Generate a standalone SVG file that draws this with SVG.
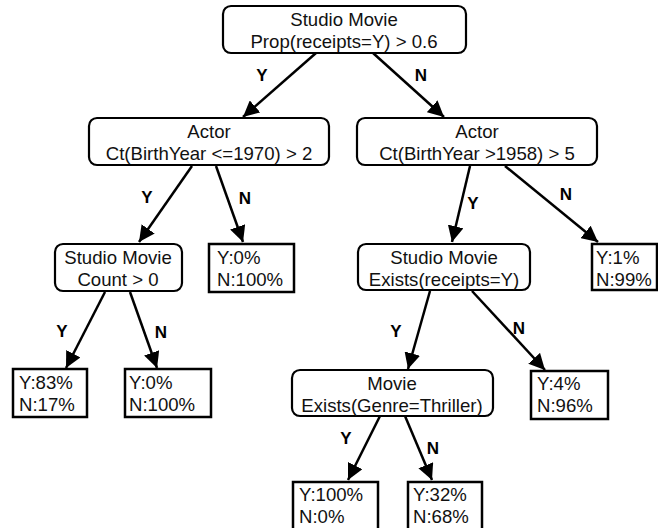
<svg xmlns="http://www.w3.org/2000/svg" width="658" height="528" viewBox="0 0 658 528">
  <defs>
    <marker id="arrow" viewBox="0 0 10 10" refX="10" refY="5" markerWidth="6.4" markerHeight="6.4" markerUnits="strokeWidth" orient="auto">
      <path d="M0,0 L10,5 L0,10 Z" fill="#000"/>
    </marker>
  </defs>
  <style>
    .split { fill: #fff; stroke: #000; stroke-width: 2.2; }
    .leaf { fill: #fff; stroke: #000; stroke-width: 2.5; }
    .t { font-family: "Liberation Sans", Arial, sans-serif; font-size: 18.6px; fill: #111; }
    .c { text-anchor: middle; }
    .lbl { font-family: "Liberation Sans", Arial, sans-serif; font-size: 17px; font-weight: bold; fill: #000; text-anchor: middle; }
    .edge { stroke: #000; stroke-width: 2.5; fill: none; marker-end: url(#arrow); }
  </style>
  <rect width="658" height="528" fill="#fff"/>

  <g id="connectors">
    <line class="edge" x1="316" y1="53" x2="243" y2="117"/>
    <line class="edge" x1="373" y1="53" x2="444" y2="117"/>
    <line class="edge" x1="192" y1="166" x2="139" y2="242"/>
    <line class="edge" x1="216" y1="166" x2="243" y2="242"/>
    <line class="edge" x1="470" y1="166" x2="452" y2="242"/>
    <line class="edge" x1="505" y1="166" x2="598" y2="242"/>
    <line class="edge" x1="105" y1="292" x2="66" y2="368"/>
    <line class="edge" x1="130" y1="292" x2="157" y2="368"/>
    <line class="edge" x1="430" y1="291" x2="408" y2="369"/>
    <line class="edge" x1="472" y1="291" x2="545" y2="370"/>
    <line class="edge" x1="380" y1="416" x2="348" y2="480"/>
    <line class="edge" x1="405" y1="416" x2="432" y2="480"/>
    <text class="lbl" x="262" y="81">Y</text>
    <text class="lbl" x="421" y="81">N</text>
    <text class="lbl" x="147" y="203">Y</text>
    <text class="lbl" x="245" y="204">N</text>
    <text class="lbl" x="473" y="209">Y</text>
    <text class="lbl" x="566" y="200">N</text>
    <text class="lbl" x="62" y="337">Y</text>
    <text class="lbl" x="161" y="338">N</text>
    <text class="lbl" x="396" y="337">Y</text>
    <text class="lbl" x="519" y="334">N</text>
    <text class="lbl" x="346" y="444">Y</text>
    <text class="lbl" x="433" y="454">N</text>
  </g>

  <g id="root">
    <rect class="split" x="223" y="6" width="243" height="47" rx="8"/>
    <text class="t c" x="344" y="26">Studio Movie</text>
    <text class="t c" x="344" y="48">Prop(receipts=Y) &gt; 0.6</text>
  </g>

  <g id="actor-left">
    <rect class="split" x="89" y="118" width="240" height="47" rx="8"/>
    <text class="t c" x="209" y="138">Actor</text>
    <text class="t c" x="209" y="160">Ct(BirthYear &lt;=1970) &gt; 2</text>
  </g>

  <g id="actor-right">
    <rect class="split" x="357" y="118" width="240" height="47" rx="8"/>
    <text class="t c" x="477" y="138">Actor</text>
    <text class="t c" x="477" y="160">Ct(BirthYear &gt;1958) &gt; 5</text>
  </g>

  <g id="studio-count">
    <rect class="split" x="55" y="244" width="127" height="47" rx="8"/>
    <text class="t c" x="118" y="264">Studio Movie</text>
    <text class="t c" x="118" y="286">Count &gt; 0</text>
  </g>

  <g id="leaf-y0-n100-a">
    <rect class="leaf" x="209" y="244" width="85" height="48"/>
    <text class="t" x="217" y="264">Y:0%</text>
    <text class="t" x="217" y="286">N:100%</text>
  </g>

  <g id="studio-exists">
    <rect class="split" x="358" y="244" width="172" height="46" rx="8"/>
    <text class="t c" x="444" y="264">Studio Movie</text>
    <text class="t c" x="444" y="286">Exists(receipts=Y)</text>
  </g>

  <g id="leaf-y1-n99">
    <rect class="leaf" x="592" y="244" width="65" height="46"/>
    <text class="t" x="596" y="264">Y:1%</text>
    <text class="t" x="596" y="286">N:99%</text>
  </g>

  <g id="leaf-y83-n17">
    <rect class="leaf" x="13" y="369" width="74" height="48"/>
    <text class="t" x="19" y="389">Y:83%</text>
    <text class="t" x="19" y="411">N:17%</text>
  </g>

  <g id="leaf-y0-n100-b">
    <rect class="leaf" x="125" y="369" width="86" height="48"/>
    <text class="t" x="129" y="389">Y:0%</text>
    <text class="t" x="129" y="411">N:100%</text>
  </g>

  <g id="movie-thriller">
    <rect class="split" x="292" y="370" width="201" height="46" rx="8"/>
    <text class="t c" x="392" y="390">Movie</text>
    <text class="t c" x="392" y="412">Exists(Genre=Thriller)</text>
  </g>

  <g id="leaf-y4-n96">
    <rect class="leaf" x="531" y="371" width="77" height="48"/>
    <text class="t" x="537" y="390">Y:4%</text>
    <text class="t" x="537" y="412">N:96%</text>
  </g>

  <g id="leaf-y100-n0">
    <rect class="leaf" x="293" y="482" width="85" height="50"/>
    <text class="t" x="299" y="501">Y:100%</text>
    <text class="t" x="299" y="523">N:0%</text>
  </g>

  <g id="leaf-y32-n68">
    <rect class="leaf" x="408" y="482" width="74" height="50"/>
    <text class="t" x="413" y="501">Y:32%</text>
    <text class="t" x="413" y="523">N:68%</text>
  </g>
</svg>
